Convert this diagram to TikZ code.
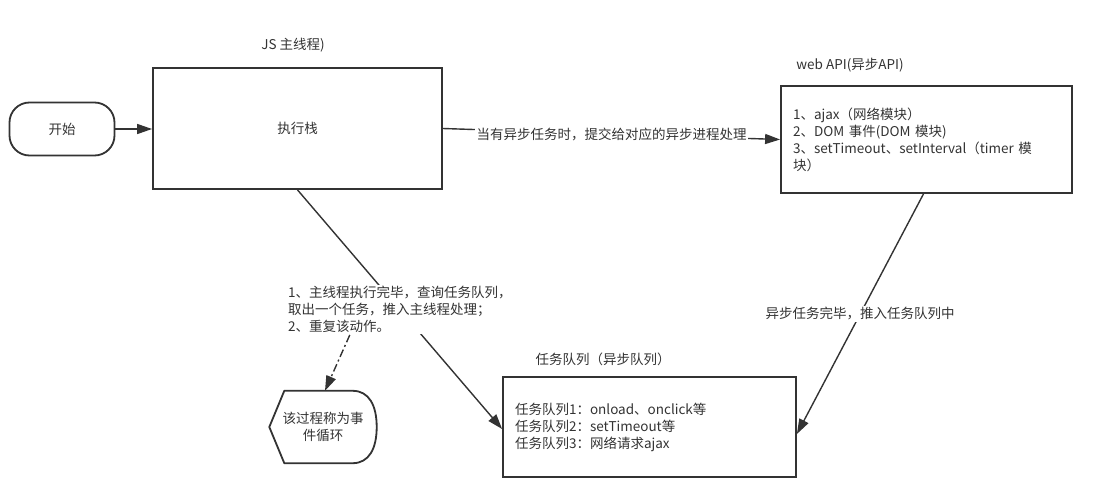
\documentclass[tikz,border=0pt]{standalone}
\usepackage{fontspec}
\setmainfont{Noto Sans CJK SC}
\usetikzlibrary{calc,arrows.meta}
\definecolor{ink}{HTML}{333333}
\tikzset{
    outline/.style={draw=ink, line width=1.8pt},
    box/.style={outline, rectangle, inner sep=0pt},
    conn/.style={draw=ink, line width=1.4pt, -{Triangle[length=15pt,width=10pt]}},
    lbl/.style={fill=white, inner sep=1.5pt, align=left},
    title/.style={inner sep=0pt},
}

\begin{document}
\begin{tikzpicture}[x=1pt, y=-1pt, font=\fontsize{13.5}{17}\selectfont, text=ink]
    \useasboundingbox (0,0) rectangle (1094,487);
    % main thread
    \node[box, rounded corners=20pt, minimum width=105pt, minimum height=53pt] (start) at (62,129) {开始};
    \node[box, minimum width=289pt, minimum height=121pt] (stack) at (297.5,128.5) {执行栈};
    \node[title] (stacktitle) at (293,45) {JS 主线程)};
    % web api
    \node[box, text width=267pt, inner xsep=12pt, minimum height=107pt, align=left] (webapi) at (926.5,139.5)
        {1、ajax（网络模块）\\2、DOM 事件(DOM 模块)\\3、setTimeout、setInterval（timer 模\\块）};
    \node[title] (webapititle) at (850,65) {web API(异步API)};
    % task queue
    \node[box, text width=269pt, inner xsep=12pt, minimum height=100pt, align=left] (queue) at (649.5,427)
        {任务队列1：onload、onclick等\\任务队列2：setTimeout等\\任务队列3：网络请求ajax};
    \node[title] (queuetitle) at (603,359) {任务队列（异步队列）};
    % event loop
    \node[minimum width=107pt, minimum height=72pt, inner sep=0pt, align=center] (loop) at (323,427)
        {该过程称为事\\件循环};
    \draw[outline, line join=round] (loop.west) -- ($(loop.north west)+(15,0)$) -- ($(loop.north east)+(-24,0)$)
        .. controls ($(loop.north east)+(-8,0)$) and ($(loop.east)+(0,-22)$) .. (loop.east)
        .. controls ($(loop.east)+(0,22)$) and ($(loop.south east)+(-8,0)$) .. ($(loop.south east)+(-24,0)$)
        -- ($(loop.south west)+(15,0)$) -- cycle;

    \draw[conn] (start.east) -- (stack.west |- start.east);
    \draw[conn] (stack.east) -- node[lbl] (submit) {当有异步任务时，提交给对应的异步进程处理} (webapi.west);
    \draw[conn] ([xshift=-3]webapi.south) -- node[lbl] (done) {异步任务完毕，推入任务队列中} ([yshift=-7]queue.east);
    \draw[conn] (stack.south) -- node[lbl] (steps)
        {1、主线程执行完毕，查询任务队列，\\取出一个任务，推入主线程处理；\\2、重复该动作。} ([yshift=-2]queue.west);
    \draw[conn, dash pattern=on 8pt off 3pt on 2pt off 3pt] ([xshift=-50]steps.south) -- ([xshift=2]loop.north);
\end{tikzpicture}
\end{document}
